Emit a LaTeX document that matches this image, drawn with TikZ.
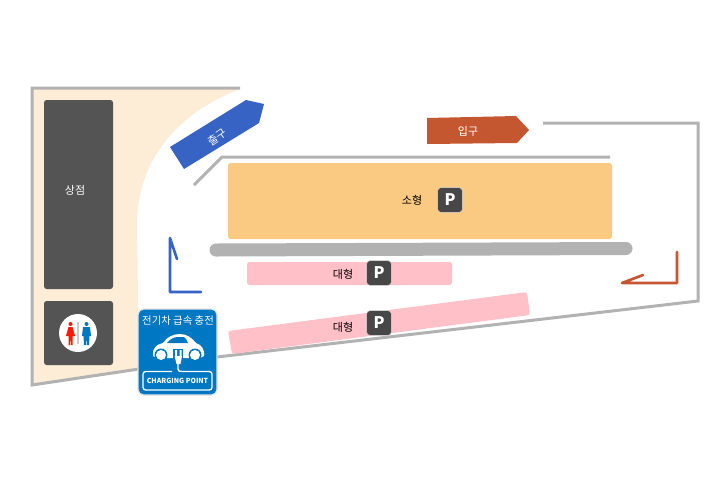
\documentclass[tikz,border=0pt]{standalone}
\usepackage{fontspec}
\setmainfont{Noto Sans CJK KR}
\usepackage{tikz}
\usetikzlibrary{calc, positioning}

\begin{document}
\begin{tikzpicture}[
    x=0.75pt,
    y=-0.75pt,
    font=\fontsize{8.25pt}{10pt}\selectfont,
    wall/.style={draw=black!30, line width=2.25pt},
    guide/.style={line width=2pt, line cap=round, line join=round},
    shop/.style={fill=black!67, rounded corners=2pt},
    pbox/.style={fill=black!72, draw=white!85!black, line width=0.3pt, rounded corners=2.5pt, minimum size=18.5pt, inner sep=0pt, text=white, font=\bfseries\fontsize{12pt}{14pt}\selectfont},
    lotlabel/.style={text=black, inner sep=0pt},
    whitelabel/.style={text=white, inner sep=0pt}
]
    \definecolor{beige}{HTML}{FDECD6}
    \definecolor{smallLot}{HTML}{FACA82}
    \definecolor{bigLot}{HTML}{FFC0C8}
    \definecolor{exitBlue}{HTML}{3663C4}
    \definecolor{entryRed}{HTML}{C45630}
    \definecolor{signBlue}{HTML}{0077C2}

    \useasboundingbox (0,0) rectangle (728,490);

    % Shop Area
    \fill[beige] (33,89) -- (240,89) .. controls (190,108) and (137,150) .. (137,225)
        -- (139,370) -- (33,385) -- cycle;

    % Outer Walls
    \draw[wall] (240,88) -- (32,88) -- (32,385) -- (139,369);
    \draw[wall] (217,357) -- (698,301) -- (698,123) -- (543,123);
    \draw[wall] (194,185) -- (222,157) -- (610,157);

    % Shop and Toilet Blocks
    \fill[shop] (44,100) rectangle (113,289);
    \node[whitelabel] (shoplabel) at (75,190) {상점};
    \fill[shop] (44,301) rectangle (113,365);

    % Toilet Icon
    \fill[white] (78,333) circle (19);
    \draw[black!20, line width=1.2pt] (78,322) -- (78,344);
    \fill[red!80!orange] (70.5,324) circle (2);
    \fill[red!80!orange] (68.5,327) -- (72.5,327) -- (75,336) -- (72.5,336) -- (72.5,345) -- (71,345)
        -- (70.5,337) -- (70,345) -- (68.5,345) -- (68.5,336) -- (66,336) -- cycle;
    \fill[signBlue] (86.5,324) circle (2);
    \fill[signBlue] (83,327) -- (90,327) -- (91,336) -- (89.5,336) -- (89,345) -- (87,345)
        -- (86.5,337) -- (86,345) -- (84,345) -- (83.5,336) -- (82,336) -- cycle;

    % Exit Arrow
    \fill[exitBlue] (170,147) -- (246,100) -- (264,104) -- (259,123) -- (184,169) -- cycle;
    \node[whitelabel, rotate=35] (exitlabel) at (217,137) {출구};

    % Entry Arrow
    \fill[entryRed] (427,118) -- (516,116) -- (529,130) -- (517,143) -- (427,144) -- cycle;
    \node[whitelabel] (entrylabel) at (468,131) {입구};

    % Small Car Lot
    \fill[smallLot, rounded corners=2pt] (228,163) rectangle (612,239);
    \node[lotlabel] (smalllabel) at (412,200) {소형};
    \node[pbox] (psmall) at (450,200) {P};

    % Divider
    \draw[black!30, line width=9.75pt, line cap=round] (216,250) -- (626,248.5);

    % Big Car Lots
    \fill[bigLot, rounded corners=2pt] (247,262) rectangle (452,285);
    \node[lotlabel] (biglabel) at (343,274) {대형};
    \node[pbox] (pbig) at (379,273) {P};

    \fill[bigLot, rounded corners=2pt] (228,331) -- (527,292) -- (530,315) -- (232,354) -- cycle;
    \node[lotlabel] (slantlabel) at (343,327) {대형};
    \node[pbox] (pslant) at (379,323) {P};

    % Direction Marks
    \draw[guide, exitBlue] (177,259) -- (170,238) -- (170,292) -- (201,292);
    \draw[guide, entryRed] (643,275) -- (622,283) -- (677,283) -- (677,252);

    % Charging Sign
    \fill[signBlue, draw=black!10, line width=1pt, rounded corners=4pt] (138,309) rectangle (217,395);
    \node[whitelabel, font=\fontsize{7.8pt}{9pt}\selectfont] (signtitle) at (178,320.5) {전기차 급속 충전};

    % Car
    \fill[white] (153,356) .. controls (152,349) and (156,344) .. (163,343)
        .. controls (167,337) and (173,334) .. (180,334)
        .. controls (187,334) and (192,338) .. (196,343)
        .. controls (202,345) and (205,350) .. (204,356)
        -- (200,358) -- (157,358) -- cycle;
    \fill[signBlue] (167,343) .. controls (170,339) and (174,337) .. (178,337)
        -- (184,337) .. controls (186,338) and (187,341) .. (188,343) -- cycle;
    \fill[signBlue] (161,355) circle (6.5) (195,355) circle (6.5);
    \fill[white] (161,355) circle (5) (195,355) circle (5);
    \fill[signBlue] (173,349) rectangle (183,366);

    % Plug and Cord
    \fill[white] (175,350) rectangle (177,356) (179.5,350) rectangle (181.5,356);
    \fill[white] (174.5,356) -- (182,356) -- (180.5,364) -- (176.5,364) -- cycle;
    \draw[white, line width=1pt] (178,364) -- (178,369) .. controls (178,371.5) and (180,371.5) .. (183,371.5);

    % Charging Label
    \draw[white, line width=1pt, rounded corners=2pt] (172,371.5) -- (143,371.5) -- (143,390) -- (212,390)
        -- (212,371.5) -- (183,371.5);
    \node[whitelabel, font=\bfseries\fontsize{5.2pt}{6pt}\selectfont] (signlabel) at (177.5,381) {CHARGING POINT};

\end{tikzpicture}
\end{document}
